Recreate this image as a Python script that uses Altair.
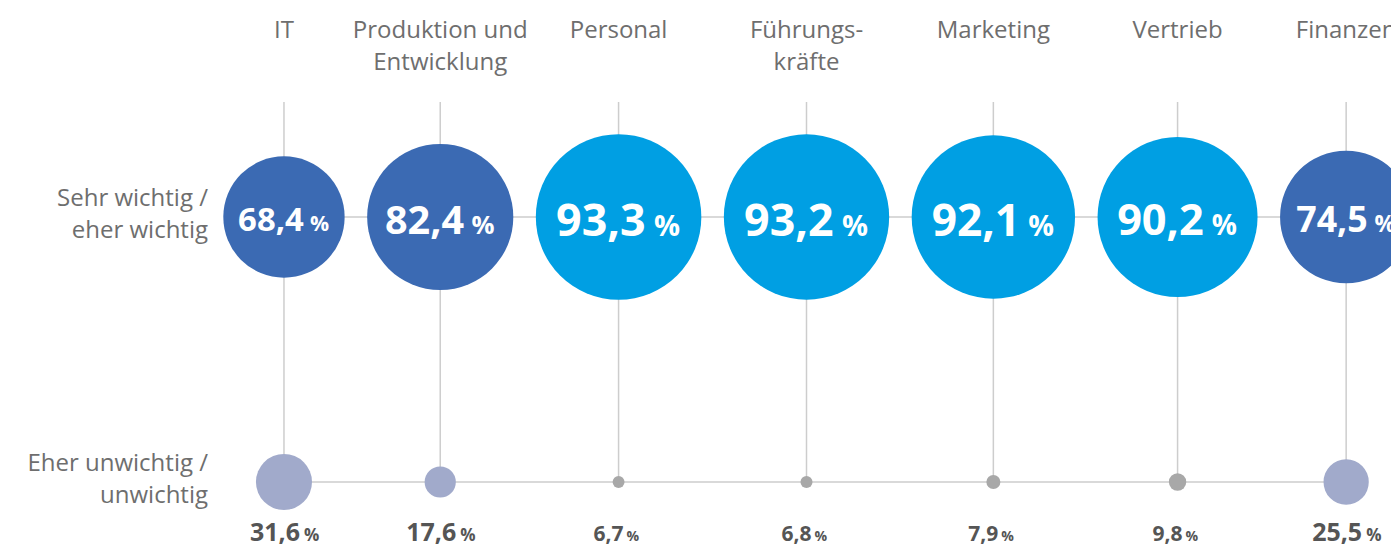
import altair as alt
import pandas as pd

# ---- data ----
kategorien = ["IT", "Produktion und Entwicklung", "Personal", "Führungskräfte",
              "Marketing", "Vertrieb", "Finanzen"]
beschriftung = ["IT", "Produktion und\nEntwicklung", "Personal", "Führungs-\nkräfte",
                "Marketing", "Vertrieb", "Finanzen"]
wichtig = [68.4, 82.4, 93.3, 93.2, 92.1, 90.2, 74.5]      # Sehr wichtig / eher wichtig
unwichtig = [31.6, 17.6, 6.7, 6.8, 7.9, 9.8, 25.5]        # Eher unwichtig / unwichtig
betont = [1, 1, 0, 0, 0, 0, 1]                            # dark-blue / lavender group
zeilen = ["Sehr wichtig /\neher wichtig", "Eher unwichtig /\nunwichtig"]

df = pd.DataFrame({
    "kategorie": kategorien,
    "beschriftung": beschriftung,
    "wichtig": wichtig,
    "unwichtig": unwichtig,
    "betont": betont,
    "i": list(range(len(kategorien))),
})
df_rows = pd.DataFrame({"zeile": zeilen, "r": [0, 1]})

# ---- layout constants (pixels) ----
K = 1.774          # px of circle diameter per percentage point
GAP = 22.5         # px between neighbouring circles
X0 = 215.3         # px of position 0
Y_TOP, Y_BOT = 209, 474
PY = Y_BOT - Y_TOP

DARK, BRIGHT, LAV, GREY = "#3b6ab3", "#009fe3", "#a1aacb", "#a8a8a8"
LINE = "#cdcdcd"
TXT = "#6e6e6e"
NUM = "#555555"
FONT = "Open Sans"

xs = alt.Scale(type="linear", domain=[0, 100], range=[X0, X0 + 100 * K], zero=False, nice=False)
ys = alt.Scale(type="linear", domain=[0, 1], range=[Y_TOP, Y_BOT], zero=False, nice=False)


def X(f):
    return alt.X(f"{f}:Q", scale=xs, axis=None)


def Y(f):
    return alt.Y(f"{f}:Q", scale=ys, axis=None)


def YD(v):
    return alt.YDatum(v, scale=ys, axis=None)


base = (
    alt.Chart(df)
    .transform_window(cum="sum(wichtig)", frame=[None, 0], sort=[alt.SortField("i")])
    .transform_calculate(
        pos=f"datum.cum - datum.wichtig / 2 + datum.i * {GAP / K}",
        s_top=f"pow({K} * datum.wichtig, 2)",
        s_bot=f"pow({K} * datum.unwichtig, 2)",
        c_top=f"datum.betont ? '{DARK}' : '{BRIGHT}'",
        c_bot=f"datum.betont ? '{LAV}' : '{GREY}'",
        t_top="replace(format(datum.wichtig, '.1f'), '.', ',')",
        t_bot="replace(format(datum.unwichtig, '.1f'), '.', ',')",
        pct="'%'",
    )
    .transform_calculate(
        xn_top=f"datum.pos + 0.29 * datum.wichtig / {K}",
        xp_top=f"datum.pos + 0.38 * datum.wichtig / {K}",
        y_top=f"0.205 * datum.wichtig / {PY}",
        fn_top="0.48 * datum.wichtig",
        fp_top="0.31 * datum.wichtig",
        xn_bot=f"datum.pos + (datum.betont ? 16 : 5) / {K}",
        xp_bot=f"datum.pos + (datum.betont ? 20 : 8) / {K}",
        y_bot=f"1 + 59 / {PY}",
        fn_bot="datum.betont ? 25 : 21",
        fp_bot="datum.betont ? 17 : 14",
    )
)

rules_v = base.mark_rule(color=LINE, strokeWidth=1.5).encode(
    x=X("pos"), y=YD(1), y2=alt.value(94)
)
rule_h_top = base.mark_rule(color=LINE, strokeWidth=1.5).encode(
    x=alt.X("min(pos):Q", scale=xs, axis=None), x2="max(pos):Q", y=YD(0)
)
rule_h_bot = base.mark_rule(color=LINE, strokeWidth=1.5).encode(
    x=alt.X("min(pos):Q", scale=xs, axis=None), x2="max(pos):Q", y=YD(1)
)

circ_top = base.mark_circle(opacity=1).encode(
    x=X("pos"), y=YD(0),
    size=alt.Size("s_top:Q", scale=None),
    color=alt.Color("c_top:N", scale=None),
)
circ_bot = base.mark_circle(opacity=1).encode(
    x=X("pos"), y=YD(1),
    size=alt.Size("s_bot:Q", scale=None),
    color=alt.Color("c_bot:N", scale=None),
)

num_top = base.mark_text(align="right", baseline="alphabetic", font=FONT,
                         fontWeight="bold", color="white").encode(
    x=X("xn_top"), y=Y("y_top"), text="t_top:N", size=alt.Size("fn_top:Q", scale=None)
)
pct_top = base.mark_text(align="left", baseline="alphabetic", font=FONT,
                         fontWeight="bold", color="white").encode(
    x=X("xp_top"), y=Y("y_top"), text="pct:N", size=alt.Size("fp_top:Q", scale=None)
)
num_bot = base.mark_text(align="right", baseline="alphabetic", font=FONT,
                         fontWeight="bold", color=NUM).encode(
    x=X("xn_bot"), y=Y("y_bot"), text="t_bot:N", size=alt.Size("fn_bot:Q", scale=None)
)
pct_bot = base.mark_text(align="left", baseline="alphabetic", font=FONT,
                         fontWeight="bold", color=NUM).encode(
    x=X("xp_bot"), y=Y("y_bot"), text="pct:N", size=alt.Size("fp_bot:Q", scale=None)
)

cat_labels = base.mark_text(align="center", baseline="alphabetic", lineBreak="\n",
                            lineHeight=32, font=FONT, fontSize=24, color=TXT).encode(
    x=X("pos"), y=alt.value(30), text="beschriftung:N"
)

row_labels = (
    alt.Chart(df_rows)
    .transform_calculate(yl=f"datum.r - 11 / {PY}")
    .mark_text(align="right", baseline="alphabetic", lineBreak="\n", lineHeight=32,
               font=FONT, fontSize=24, color=TXT)
    .encode(x=alt.value(200), y=Y("yl"), text="zeile:N")
)

chart = (
    alt.layer(rules_v, rule_h_top, rule_h_bot, circ_top, circ_bot,
              num_top, pct_top, num_bot, pct_bot, cat_labels, row_labels)
    .properties(width=1383, height=537, autosize=alt.AutoSizeParams(type="none"),
                padding=0, background="white")
    .configure_view(strokeWidth=0)
)

chart.save("out.html", embed_options={"renderer": "svg", "actions": False})
